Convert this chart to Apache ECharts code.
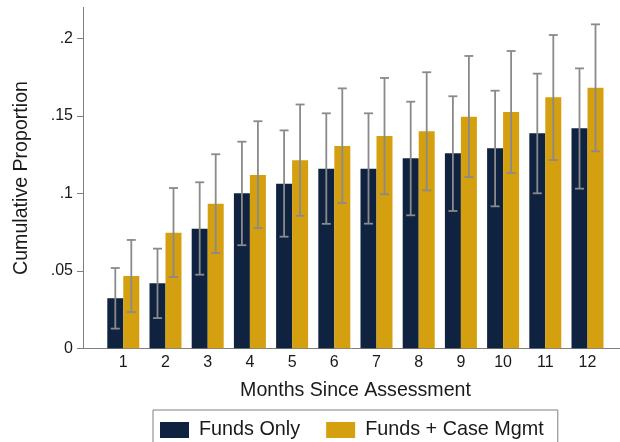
<!DOCTYPE html>
<html>
<head>
<meta charset="utf-8">
<script src="https://cdn.jsdelivr.net/npm/echarts@6/dist/echarts.min.js"></script>
<style>
  html, body { margin: 0; padding: 0; background: #fff; }
  #chart { width: 620px; height: 442px; }
</style>
</head>
<body>
<div id="chart"></div>
<script>
// Months since assessment
const months = [1, 2, 3, 4, 5, 6, 7, 8, 9, 10, 11, 12];

// Funds Only: cumulative proportion with 95% CI
const fundsOnly   = [0.0323, 0.0419, 0.0772, 0.1000, 0.1062, 0.1159, 0.1159, 0.1226, 0.1258, 0.1290, 0.1387, 0.1419];
const fundsOnlyLo = [0.0127, 0.0195, 0.0475, 0.0665, 0.0720, 0.0803, 0.0804, 0.0858, 0.0886, 0.0916, 0.1000, 0.1030];
const fundsOnlyHi = [0.0518, 0.0643, 0.1071, 0.1333, 0.1406, 0.1516, 0.1516, 0.1591, 0.1626, 0.1662, 0.1772, 0.1806];

// Funds + Case Mgmt: cumulative proportion with 95% CI
const fundsCase   = [0.0466, 0.0746, 0.0933, 0.1118, 0.1213, 0.1305, 0.1370, 0.1400, 0.1494, 0.1525, 0.1619, 0.1681];
const fundsCaseLo = [0.0234, 0.0460, 0.0615, 0.0775, 0.0855, 0.0938, 0.0994, 0.1019, 0.1105, 0.1131, 0.1215, 0.1271];
const fundsCaseHi = [0.0699, 0.1034, 0.1252, 0.1465, 0.1573, 0.1677, 0.1744, 0.1781, 0.1886, 0.1918, 0.2021, 0.2090];

const yTicks = [0, 0.05, 0.1, 0.15, 0.2];

const NAVY = '#0f2341';
const GOLD = '#d4a010';
const FONT = '"Liberation Sans", Arial, sans-serif';
const BAR_W = 16;

const chart = echarts.init(document.getElementById('chart'), null, { renderer: 'canvas' });

// Error bar (whisker with caps) drawn at a horizontal pixel offset from the group centre
function whiskers(lo, hi, offset) {
  return {
    type: 'custom',
    z: 10,
    silent: true,
    data: months.map((m, i) => [m, lo[i], hi[i]]),
    renderItem: function (params, api) {
      const top = api.coord([api.value(0), api.value(2)]);
      const bot = api.coord([api.value(0), api.value(1)]);
      const x = top[0] + offset;
      const cap = 4.5;
      const style = { stroke: '#8a8a8a', lineWidth: 1.8 };
      return {
        type: 'group',
        children: [
          { type: 'line', shape: { x1: x, y1: top[1], x2: x, y2: bot[1] }, style },
          { type: 'line', shape: { x1: x - cap, y1: top[1], x2: x + cap, y2: top[1] }, style },
          { type: 'line', shape: { x1: x - cap, y1: bot[1], x2: x + cap, y2: bot[1] }, style }
        ]
      };
    }
  };
}

const option = {
  animation: false,
  backgroundColor: '#ffffff',
  textStyle: { fontFamily: FONT },
  grid: { left: 83, right: 0, top: 7.3, bottom: 93.7, containLabel: false },
  xAxis: {
    type: 'value',
    min: 0.045,
    max: 12.77,
    axisLine: { show: true, lineStyle: { color: '#7f7f7f', width: 1 } },
    axisTick: { show: false },
    splitLine: { show: false },
    axisLabel: {
      customValues: months,
      color: '#1a1a1a',
      fontSize: 16,
      fontFamily: FONT,
      margin: 6,
      formatter: v => String(v)
    }
  },
  yAxis: {
    type: 'value',
    min: 0,
    max: 0.22,
    axisLine: { show: true, lineStyle: { color: '#7f7f7f', width: 1 } },
    axisTick: { show: true, customValues: yTicks, length: 6, lineStyle: { color: '#7f7f7f' } },
    splitLine: { show: false },
    axisLabel: {
      customValues: yTicks,
      color: '#1a1a1a',
      fontSize: 16,
      fontFamily: FONT,
      margin: 10,
      formatter: v => (v === 0 ? '0' : String(+v.toFixed(2)).replace(/^0/, ''))
    }
  },
  legend: {
    left: 153,
    top: 410,
    orient: 'horizontal',
    itemWidth: 29,
    itemHeight: 16,
    itemGap: 26,
    padding: [10, 14, 9, 7],
    borderColor: '#7f7f7f',
    borderWidth: 1,
    icon: 'rect',
    textStyle: { fontSize: 19.8, color: '#1a1a1a', fontFamily: FONT, padding: [0, 0, 0, 5] },
    data: ['Funds Only', 'Funds + Case Mgmt']
  },
  graphic: [
    {
      type: 'text',
      x: 355.5,
      y: 390.7,
      style: {
        text: 'Months Since Assessment',
        fontSize: 19.6,
        fontFamily: FONT,
        fill: '#1a1a1a',
        align: 'center',
        verticalAlign: 'middle'
      }
    },
    {
      type: 'text',
      x: 22,
      y: 178,
      rotation: Math.PI / 2,
      style: {
        text: 'Cumulative Proportion',
        fontSize: 19.6,
        fontFamily: FONT,
        fill: '#1a1a1a',
        align: 'center',
        verticalAlign: 'middle'
      }
    }
  ],
  series: [
    {
      name: 'Funds Only',
      type: 'bar',
      barWidth: BAR_W,
      barGap: '0%',
      itemStyle: { color: NAVY },
      data: months.map((m, i) => [m, fundsOnly[i]])
    },
    {
      name: 'Funds + Case Mgmt',
      type: 'bar',
      barWidth: BAR_W,
      barGap: '0%',
      itemStyle: { color: GOLD },
      data: months.map((m, i) => [m, fundsCase[i]])
    },
    whiskers(fundsOnlyLo, fundsOnlyHi, -BAR_W / 2),
    whiskers(fundsCaseLo, fundsCaseHi, BAR_W / 2)
  ]
};

chart.setOption(option);
</script>
</body>
</html>
